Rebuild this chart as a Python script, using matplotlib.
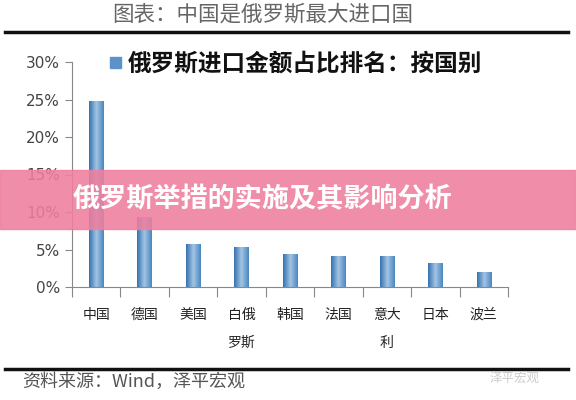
import numpy as np
import matplotlib
matplotlib.use("Agg")
import matplotlib.pyplot as plt
from matplotlib.colors import LinearSegmentedColormap
from matplotlib.patches import Rectangle
from matplotlib.lines import Line2D

plt.rcParams['font.family'] = ['Noto Sans CJK SC', 'DejaVu Sans']

countries = ["中国", "德国", "美国", "白俄\n罗斯", "韩国", "法国", "意大\n利", "日本", "波兰"]
shares = [24.8, 9.4, 5.7, 5.4, 4.4, 4.2, 4.1, 3.2, 2.0]
yticks = [0, 5, 10, 15, 20, 25, 30]

fig = plt.figure(figsize=(5.76, 4.0), dpi=100)
ax = fig.add_axes([0.125, 0.2825, 0.757, 0.5625])

x = np.arange(len(countries))
bars = ax.bar(x, shares, width=0.3, color="#6A9FD0", edgecolor="none",
              label="俄罗斯进口金额占比排名：按国别")

# horizontal shading inside each bar
cmap = LinearSegmentedColormap.from_list("bar", ["#3572B0", "#A3C5E4", "#4A86C0"])
grad = np.linspace(0, 1, 64).reshape(1, -1)
for b in bars:
    im = ax.imshow(grad, cmap=cmap, aspect="auto", zorder=2,
                   extent=[b.get_x(), b.get_x() + b.get_width(), 0, b.get_height()])
    im.set_clip_path(b)
ax.set_xlim(-0.5, len(countries) - 0.5)
ax.set_ylim(0, 30)

ax.set_yticks(yticks)
ax.set_yticklabels([f"{v}%" for v in yticks], fontsize=11, color="#444444",
                   family=['DejaVu Sans'])
ax.set_xticks(np.arange(len(countries) + 1) - 0.5)
ax.set_xticklabels([])
ax.set_xticks(x, minor=True)
ax.set_xticklabels(countries, minor=True, fontsize=10, color="#222222", linespacing=2.3,
                   va="top")
ax.tick_params(axis="x", which="minor", length=0, pad=15)
ax.tick_params(axis="x", which="major", length=7, direction="out", color="#888888")
ax.tick_params(axis="y", length=5, direction="out", color="#888888")
for s in ["top", "right"]:
    ax.spines[s].set_visible(False)
for s in ["left", "bottom"]:
    ax.spines[s].set_color("#888888")

# legend
fig.patches.append(Rectangle((110 / 576, 1 - 68 / 400), 11 / 576, 11 / 400,
                             transform=fig.transFigure, color="#5B93C8", figure=fig))
fig.text(128 / 576, 1 - 63 / 400, "俄罗斯进口金额占比排名：按国别", fontsize=17,
         fontweight="bold", color="#111111", va="center", ha="left")

# title and rules
fig.text(263 / 576, 1 - 15 / 400, "图表：中国是俄罗斯最大进口国", fontsize=15.5,
         color="#666666", ha="center", va="center")
fig.lines.append(Line2D([5 / 576, 568 / 576], [1 - 32 / 400] * 2, transform=fig.transFigure,
                        color="#111111", linewidth=2.5))
fig.lines.append(Line2D([5 / 576, 568 / 576], [1 - 369 / 400] * 2, transform=fig.transFigure,
                        color="#111111", linewidth=2.5))
fig.text(22 / 576, 1 - 382 / 400, "资料来源：Wind，泽平宏观", fontsize=13, style="italic",
         color="#555555", ha="left", va="center")
fig.text(540 / 576, 1 - 378 / 400, "泽平宏观", fontsize=9, style="italic",
         color="#cccccc", ha="right", va="center")

# banner overlay
fig.patches.append(Rectangle((0, 1 - 229 / 400), 1, 59 / 400, transform=fig.transFigure,
                             color="#EE7F9F", alpha=0.88, zorder=5, figure=fig))
fig.text(73 / 576, 1 - 199 / 400, "俄罗斯举措的实施及其影响分析", fontsize=19.5,
         fontweight="bold", color="white", ha="left", va="center", zorder=6)

fig.savefig("out.png", dpi=100)
